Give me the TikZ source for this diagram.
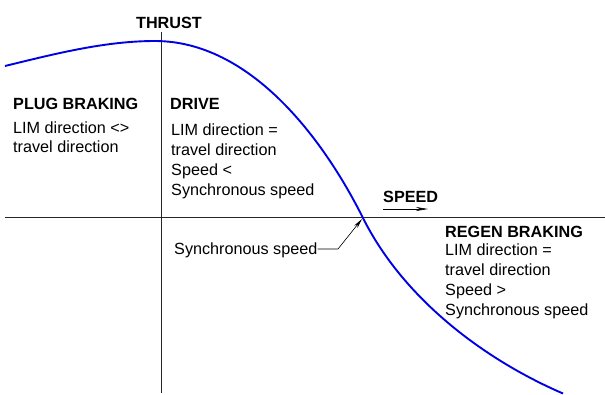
\documentclass[tikz,border=0pt]{standalone}
\usepackage{fontspec}
\setmainfont{Liberation Sans}
\usetikzlibrary{arrows.meta}
\begin{document}
\begin{tikzpicture}[x=1pt,y=-1pt,
  txt/.style={inner sep=0pt,anchor=base west,align=left,font=\fontsize{16.2}{20}\selectfont},
  head/.style={inner sep=0pt,anchor=base west,font=\fontsize{16.2}{20}\selectfont\bfseries},
  axis/.style={line width=1.1pt,black!85},
  curve/.style={line width=1.9pt,blue!90!black},
  lead/.style={line width=0.6pt,-{Stealth[length=10pt,width=4pt]}}]
\useasboundingbox (0,0) rectangle (605,394);
% axes
\coordinate (hx0) at (5,217.5);
\coordinate (hx1) at (605,217.5);
\coordinate (vy0) at (161.5,32);
\coordinate (vy1) at (161.5,393);
\draw[axis] (hx0) -- (hx1);
\draw[axis] (vy0) -- (vy1);
% curve
\coordinate (c0) at (5,66);
\coordinate (cpk) at (155,41);
\coordinate (cx) at (363,218);
\coordinate (cend) at (563,393.5);
\draw[curve] (c0) .. controls (55,53.8) and (105,41) .. (cpk)
  .. controls (250,41) and (323,138) .. (cx)
  .. controls (403,298) and (483,359) .. (cend);
% labels
\node[head,anchor=base] (thrust) at (169,28) {THRUST};
\node[head] (speedlbl) at (383,202) {SPEED};
\coordinate (sa0) at (383,209);
\coordinate (sa1) at (428,209);
\draw[line width=0.6pt,-{Stealth[length=12pt,width=4pt]}] (sa0) -- (sa1);
\node[head] (plugh) at (13,109) {PLUG BRAKING};
\node[txt,font=\fontsize{16.2}{19}\selectfont] (plugb) at (13,152) {LIM direction <>\\travel direction};
\node[head] (driveh) at (170,109) {DRIVE};
\node[txt] (driveb) at (171,195) {LIM direction =\\travel direction\\Speed <\\Synchronous speed};
\node[head] (regenh) at (445,237) {REGEN BRAKING};
\node[txt] (regenb) at (445,315) {LIM direction =\\travel direction\\Speed >\\Synchronous speed};
\node[txt] (sync) at (174,254) {Synchronous speed};
\coordinate (bend) at (338,249);
\coordinate (cross) at (362,219);
\draw[lead] (sync.east |- 0,249) -- (bend) -- (cross);
\end{tikzpicture}
\end{document}
